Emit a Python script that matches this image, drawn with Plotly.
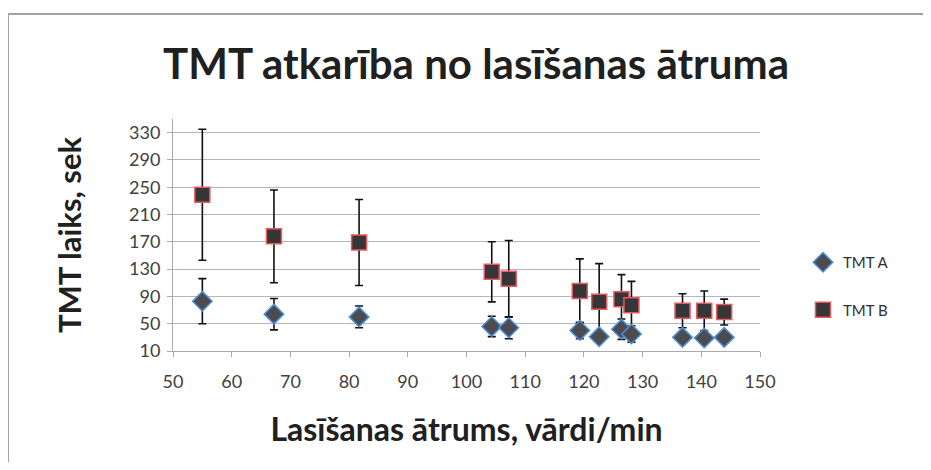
import plotly.graph_objects as go

speed = [55.0, 67.2, 81.7, 104.3, 107.2, 119.3, 122.6, 126.4, 128.1, 136.8, 140.5, 143.9]
tmt_a = [83, 64, 60, 46, 44, 40, 31, 42, 35, 30, 29, 30]
tmt_a_sd = [33, 23, 16, 15, 16, 12, 4, 15, 12, 8, 8, 5]
tmt_b = [239, 178, 169, 126, 116, 98, 82, 86, 77, 69, 69, 67]
tmt_b_sd = [96, 68, 63, 44, 56, 47, 56, 36, 35, 25, 29, 19]

y_ticks = [10, 50, 90, 130, 170, 210, 250, 290, 330]
x_ticks = [50, 60, 70, 80, 90, 100, 110, 120, 130, 140, 150]

FONT = "Lato"

fig = go.Figure()
fig.add_trace(go.Scatter(
    x=speed, y=tmt_b, mode="markers", name="TMT B", legendrank=2, legendgroup="b",
    marker=dict(symbol="square", size=15, color="#363638",
                line=dict(color="#e8585c", width=1.5)),
    error_y=dict(type="data", array=tmt_b_sd, visible=True,
                 color="#111111", thickness=1.6, width=4),
))
fig.add_trace(go.Scatter(
    x=speed, y=tmt_a, mode="markers", name="TMT A", legendrank=1, legendgroup="a",
    marker=dict(symbol="diamond", size=15, color="#4c4c50",
                line=dict(color="#4a8fd8", width=1.5)),
    error_y=dict(type="data", array=tmt_a_sd, visible=True,
                 color="#111111", thickness=1.6, width=4),
))

# page has an 8px body margin: target pixel positions are shifted by OFF
OFF = 8
W, H = 931 - 2 * OFF, 470 - 2 * OFF
L, T = 173 - OFF, 119 - OFF
R, B = W - (760 - OFF), H - (351 - OFF)
pw, ph = W - L - R, H - T - B

def px(x):
    return (x - OFF - L) / pw

def py(y):
    return (H - B - (y - OFF)) / ph

fig.update_layout(
    template="none",
    width=W, height=H,
    margin=dict(l=L, r=R, t=T, b=B, autoexpand=False),
    paper_bgcolor="white", plot_bgcolor="white",
    font=dict(family=FONT, color="#404040"),
    title=dict(text="<b>TMT atkarība no lasīšanas ātruma</b>",
               x=(476 - OFF) / W, xanchor="center", y=1 - (64 - OFF) / H, yanchor="middle",
               font=dict(size=42, color="#202020", family=FONT)),
    xaxis=dict(range=[50, 150], tickvals=x_ticks, showgrid=False,
               showline=True, linecolor="#a8a8b8", linewidth=1,
               ticks="outside", ticklen=5, tickcolor="#a8a8b8",
               ticklabelstandoff=9,
               tickfont=dict(size=18, color="#404040"),
               title=dict(text="<b>Lasīšanas ātrums, vārdi/min</b>",
                          font=dict(size=32, color="#202020"), standoff=28),
               zeroline=False, automargin=False),
    yaxis=dict(range=[10, 350], tickvals=y_ticks, showgrid=True,
               gridcolor="#b4b4c8", gridwidth=1,
               showline=True, linecolor="#a8a8b8", linewidth=1,
               ticks="outside", ticklen=5, tickcolor="#a8a8b8",
               ticklabelstandoff=3,
               tickfont=dict(size=18, color="#404040"),
               title=dict(text="<b>TMT laiks, sek</b>",
                          font=dict(size=31, color="#202020"), standoff=38),
               zeroline=False, automargin=False),
    legend=dict(x=px(803), y=py(246), xanchor="left", yanchor="top",
                font=dict(size=15, color="#303030"),
                traceorder="grouped", tracegroupgap=25,
                bgcolor="rgba(0,0,0,0)"),
    showlegend=True,
    shapes=[
        dict(type="line", xref="paper", yref="paper",
             x0=px(8), x1=px(931), y0=py(14), y1=py(14),
             line=dict(color="#a0a0b0", width=2)),
        dict(type="line", xref="paper", yref="paper",
             x0=px(8), x1=px(8), y0=py(470), y1=py(14),
             line=dict(color="#a0a0b0", width=2)),
    ],
)

fig.write_html("out.html", config={"displayModeBar": False})
